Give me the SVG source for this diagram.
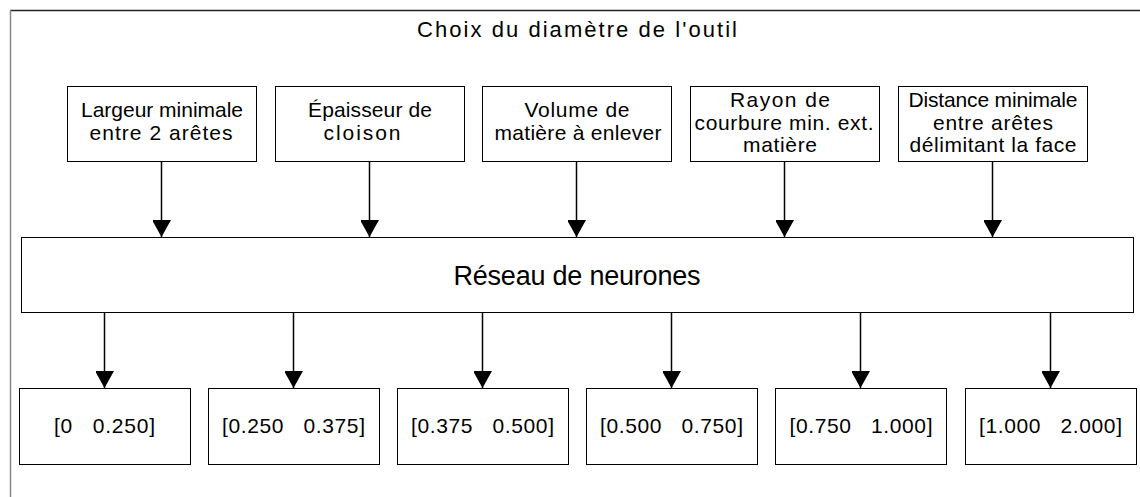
<svg xmlns="http://www.w3.org/2000/svg" width="1140" height="497" viewBox="0 0 1140 497">
<style>
.box{fill:#fff;stroke:#000;stroke-width:1}
.t{font-family:"Liberation Sans",Arial,sans-serif;font-size:21px;fill:#000;text-anchor:middle;white-space:pre}
.ttl{font-size:22px}
.big{font-size:27px}
.c{stroke:#000;stroke-width:1.5;fill:none}
</style>
<defs>
<marker id="ah" markerUnits="userSpaceOnUse" markerWidth="20" markerHeight="18" refX="17" refY="9.5" orient="auto">
<path d="M0,0 L17,9.5 L0,19 Z" fill="#000"/>
</marker>
</defs>
<rect width="1140" height="497" fill="#fff"/>
<g id="frame">
<line x1="10" y1="10.5" x2="1140" y2="10.5" stroke="#222" stroke-width="1.5"/>
<line x1="10.5" y1="10" x2="10.5" y2="497" stroke="#888" stroke-width="1.5"/>
<text class="t ttl" x="577" y="37" textLength="320" lengthAdjust="spacing">Choix du diamètre de l'outil</text>
</g>
<g id="in1">
<rect class="box" x="67.5" y="86.5" width="189" height="75"/>
<text class="t" x="162" y="117" textLength="162" lengthAdjust="spacing">Largeur minimale</text>
<text class="t" x="161" y="140" textLength="143" lengthAdjust="spacing">entre 2 arêtes</text>
</g>
<g id="in2">
<rect class="box" x="275.5" y="86.5" width="189" height="75"/>
<text class="t" x="370" y="117" textLength="124" lengthAdjust="spacing">Épaisseur de</text>
<text class="t" x="362" y="140" textLength="77" lengthAdjust="spacing">cloison</text>
</g>
<g id="in3">
<rect class="box" x="482.5" y="86.5" width="189" height="75"/>
<text class="t" x="577" y="117" textLength="105" lengthAdjust="spacing">Volume de</text>
<text class="t" x="578" y="140" textLength="167" lengthAdjust="spacing">matière à enlever</text>
</g>
<g id="in4">
<rect class="box" x="690.5" y="86.5" width="189" height="75"/>
<text class="t" x="780" y="107" textLength="100" lengthAdjust="spacing">Rayon de</text>
<text class="t" x="784" y="130" textLength="179" lengthAdjust="spacing">courbure min. ext.</text>
<text class="t" x="780" y="152" textLength="74" lengthAdjust="spacing">matière</text>
</g>
<g id="in5">
<rect class="box" x="898.5" y="86.5" width="189" height="75"/>
<text class="t" x="993" y="107" textLength="169" lengthAdjust="spacing">Distance minimale</text>
<text class="t" x="993" y="130" textLength="120" lengthAdjust="spacing">entre arêtes</text>
<text class="t" x="993" y="152" textLength="167" lengthAdjust="spacing">délimitant la face</text>
</g>
<g id="nn">
<rect class="box" x="21.5" y="237.5" width="1112" height="75"/>
<text class="t big" x="577" y="285" textLength="247" lengthAdjust="spacing">Réseau de neurones</text>
</g>
<g id="out1">
<rect class="box" x="19.5" y="388.5" width="171" height="76"/>
<text class="t" x="104.5" y="433" textLength="101" lengthAdjust="spacing">[0   0.250]</text>
</g>
<g id="out2">
<rect class="box" x="208.5" y="388.5" width="171" height="76"/>
<text class="t" x="293.5" y="433" textLength="143" lengthAdjust="spacing">[0.250   0.375]</text>
</g>
<g id="out3">
<rect class="box" x="397.5" y="388.5" width="171" height="76"/>
<text class="t" x="482.5" y="433" textLength="143" lengthAdjust="spacing">[0.375   0.500]</text>
</g>
<g id="out4">
<rect class="box" x="586.5" y="388.5" width="171" height="76"/>
<text class="t" x="671.5" y="433" textLength="143" lengthAdjust="spacing">[0.500   0.750]</text>
</g>
<g id="out5">
<rect class="box" x="775.5" y="388.5" width="171" height="76"/>
<text class="t" x="861" y="433" textLength="143" lengthAdjust="spacing">[0.750   1.000]</text>
</g>
<g id="out6">
<rect class="box" x="965.5" y="388.5" width="171" height="76"/>
<text class="t" x="1050.5" y="433" textLength="143" lengthAdjust="spacing">[1.000   2.000]</text>
</g>
<g id="connectors">
<line class="c" x1="161.5" y1="162" x2="161.5" y2="237" marker-end="url(#ah)"/>
<line class="c" x1="369.5" y1="162" x2="369.5" y2="237" marker-end="url(#ah)"/>
<line class="c" x1="576.5" y1="162" x2="576.5" y2="237" marker-end="url(#ah)"/>
<line class="c" x1="784.5" y1="162" x2="784.5" y2="237" marker-end="url(#ah)"/>
<line class="c" x1="992.5" y1="162" x2="992.5" y2="237" marker-end="url(#ah)"/>
<line class="c" x1="104.5" y1="313" x2="104.5" y2="388" marker-end="url(#ah)"/>
<line class="c" x1="293.5" y1="313" x2="293.5" y2="388" marker-end="url(#ah)"/>
<line class="c" x1="482.5" y1="313" x2="482.5" y2="388" marker-end="url(#ah)"/>
<line class="c" x1="671.5" y1="313" x2="671.5" y2="388" marker-end="url(#ah)"/>
<line class="c" x1="860.5" y1="313" x2="860.5" y2="388" marker-end="url(#ah)"/>
<line class="c" x1="1050.5" y1="313" x2="1050.5" y2="388" marker-end="url(#ah)"/>
</g>
</svg>
